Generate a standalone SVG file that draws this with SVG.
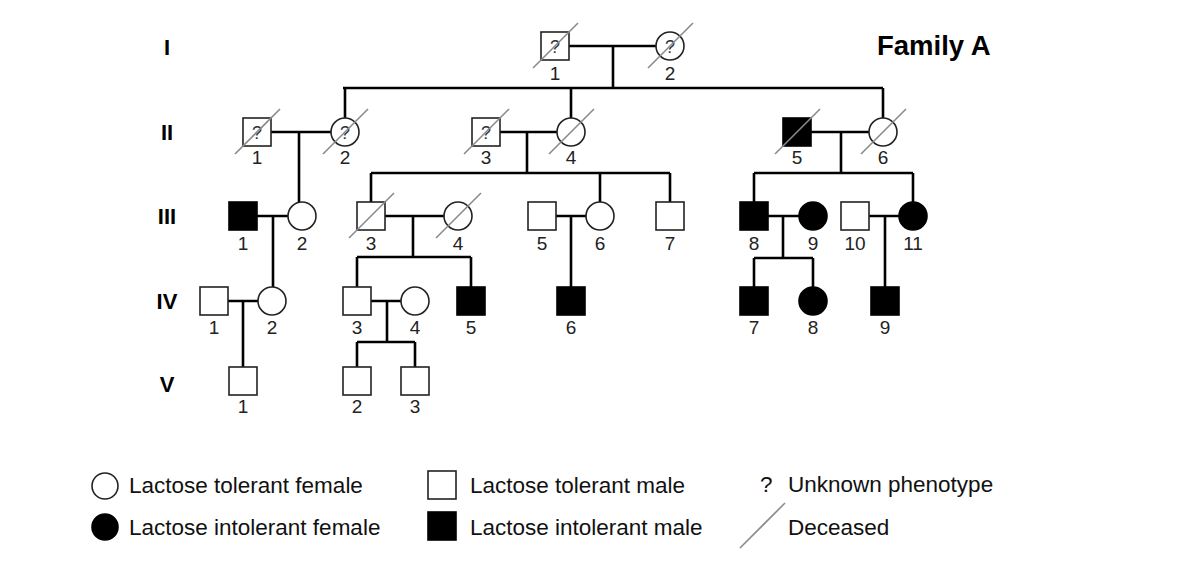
<svg xmlns="http://www.w3.org/2000/svg" width="1191" height="569" viewBox="0 0 1191 569">
<style>
.sym{stroke:#222;stroke-width:1.6;fill:#fff}
.aff{fill:#000;stroke:#000;stroke-width:1.6}
.ln{stroke:#000;stroke-width:2.6;fill:none}
.sl{stroke:#8a8a8a;stroke-width:1.6}
.num{font-family:"Liberation Sans",Arial,sans-serif;font-size:19px;fill:#222;text-anchor:middle}
.q{font-family:"Liberation Sans",Arial,sans-serif;font-size:18px;fill:#333;text-anchor:middle}
.gen{font-family:"Liberation Sans",Arial,sans-serif;font-size:22px;font-weight:bold;fill:#000;text-anchor:middle}
.leg{font-family:"Liberation Sans",Arial,sans-serif;font-size:22.5px;fill:#111}
</style>
<defs>
<rect id="sq" x="-14" y="-14" width="28" height="28"/>
<circle id="ci" r="14"/>
<line id="dec" x1="-22" y1="22" x2="23" y2="-23"/>
</defs>
<rect width="1191" height="569" fill="#fff"/>

<g id="gen-labels">
<text class="gen" x="167" y="55">I</text>
<text class="gen" x="167" y="140">II</text>
<text class="gen" x="167" y="224">III</text>
<text class="gen" x="167" y="309">IV</text>
<text class="gen" x="167" y="392">V</text>
</g>
<text id="title" x="877" y="55" font-family="Liberation Sans, Arial, sans-serif" font-size="27.5" font-weight="bold" fill="#000">Family A</text>

<g id="connectors">
<path class="ln" d="M569 46H656M613 46V88M343 88H883M345 88V118M571 88V118M883 88V118"/>
<path class="ln" d="M271 132H331M299 132V202"/>
<path class="ln" d="M500 132H557M527 132V173M371 173H670M371 173V202M600 173V202M670 173V202"/>
<path class="ln" d="M811 132H869M841 132V173M754 173H913M754 173V202M913 173V202"/>
<path class="ln" d="M257 216H288M273 216V287"/>
<path class="ln" d="M385 216H444M413 216V257M357 257H471M357 257V287M471 257V287"/>
<path class="ln" d="M556 216H586M571 216V287"/>
<path class="ln" d="M768 216H799M783 216V258M754 258H813M754 258V287M813 258V287"/>
<path class="ln" d="M869 216H899M885 216V287"/>
<path class="ln" d="M228 301H258M243 301V367"/>
<path class="ln" d="M371 301H401M387 301V342M357 342H415M357 342V367M415 342V367"/>
</g>

<g id="I-1" transform="translate(555,46)"><use href="#sq" class="sym"/><text class="q" y="7">?</text><use href="#dec" class="sl"/><text class="num" y="34">1</text></g>
<g id="I-2" transform="translate(670,46)"><use href="#ci" class="sym"/><text class="q" y="7">?</text><use href="#dec" class="sl"/><text class="num" y="34">2</text></g>

<g id="II-1" transform="translate(257,132)"><use href="#sq" class="sym"/><text class="q" y="7">?</text><use href="#dec" class="sl"/><text class="num" y="32">1</text></g>
<g id="II-2" transform="translate(345,132)"><use href="#ci" class="sym"/><text class="q" y="7">?</text><use href="#dec" class="sl"/><text class="num" y="32">2</text></g>
<g id="II-3" transform="translate(486,132)"><use href="#sq" class="sym"/><text class="q" y="7">?</text><use href="#dec" class="sl"/><text class="num" y="32">3</text></g>
<g id="II-4" transform="translate(571,132)"><use href="#ci" class="sym"/><use href="#dec" class="sl"/><text class="num" y="32">4</text></g>
<g id="II-5" transform="translate(797,132)"><use href="#sq" class="aff"/><use href="#dec" class="sl"/><text class="num" y="32">5</text></g>
<g id="II-6" transform="translate(883,132)"><use href="#ci" class="sym"/><use href="#dec" class="sl"/><text class="num" y="32">6</text></g>

<g id="III-1" transform="translate(243,216)"><use href="#sq" class="aff"/><text class="num" y="34">1</text></g>
<g id="III-2" transform="translate(302,216)"><use href="#ci" class="sym"/><text class="num" y="34">2</text></g>
<g id="III-3" transform="translate(371,216)"><use href="#sq" class="sym"/><use href="#dec" class="sl"/><text class="num" y="34">3</text></g>
<g id="III-4" transform="translate(458,216)"><use href="#ci" class="sym"/><use href="#dec" class="sl"/><text class="num" y="34">4</text></g>
<g id="III-5" transform="translate(542,216)"><use href="#sq" class="sym"/><text class="num" y="34">5</text></g>
<g id="III-6" transform="translate(600,216)"><use href="#ci" class="sym"/><text class="num" y="34">6</text></g>
<g id="III-7" transform="translate(670,216)"><use href="#sq" class="sym"/><text class="num" y="34">7</text></g>
<g id="III-8" transform="translate(754,216)"><use href="#sq" class="aff"/><text class="num" y="34">8</text></g>
<g id="III-9" transform="translate(813,216)"><use href="#ci" class="aff"/><text class="num" y="34">9</text></g>
<g id="III-10" transform="translate(855,216)"><use href="#sq" class="sym"/><text class="num" y="34">10</text></g>
<g id="III-11" transform="translate(913,216)"><use href="#ci" class="aff"/><text class="num" y="34">11</text></g>

<g id="IV-1" transform="translate(214,301)"><use href="#sq" class="sym"/><text class="num" y="33">1</text></g>
<g id="IV-2" transform="translate(272,301)"><use href="#ci" class="sym"/><text class="num" y="33">2</text></g>
<g id="IV-3" transform="translate(357,301)"><use href="#sq" class="sym"/><text class="num" y="33">3</text></g>
<g id="IV-4" transform="translate(415,301)"><use href="#ci" class="sym"/><text class="num" y="33">4</text></g>
<g id="IV-5" transform="translate(471,301)"><use href="#sq" class="aff"/><text class="num" y="33">5</text></g>
<g id="IV-6" transform="translate(571,301)"><use href="#sq" class="aff"/><text class="num" y="33">6</text></g>
<g id="IV-7" transform="translate(754,301)"><use href="#sq" class="aff"/><text class="num" y="33">7</text></g>
<g id="IV-8" transform="translate(813,301)"><use href="#ci" class="aff"/><text class="num" y="33">8</text></g>
<g id="IV-9" transform="translate(885,301)"><use href="#sq" class="aff"/><text class="num" y="33">9</text></g>

<g id="V-1" transform="translate(243,381)"><use href="#sq" class="sym"/><text class="num" y="32">1</text></g>
<g id="V-2" transform="translate(357,381)"><use href="#sq" class="sym"/><text class="num" y="32">2</text></g>
<g id="V-3" transform="translate(415,381)"><use href="#sq" class="sym"/><text class="num" y="32">3</text></g>

<g id="legend">
<circle class="sym" cx="105" cy="486" r="13"/>
<text class="leg" x="129" y="493">Lactose tolerant female</text>
<circle class="aff" cx="105" cy="527" r="13"/>
<text class="leg" x="129" y="535">Lactose intolerant female</text>
<rect class="sym" x="428" y="471" width="28" height="28"/>
<text class="leg" x="470" y="493">Lactose tolerant male</text>
<rect class="aff" x="428" y="512" width="28" height="28"/>
<text class="leg" x="470" y="535">Lactose intolerant male</text>
<text class="leg" x="760" y="492">?</text>
<text class="leg" x="788" y="492">Unknown phenotype</text>
<line class="sl" x1="740" y1="548" x2="785" y2="503"/>
<text class="leg" x="788" y="535">Deceased</text>
</g>
</svg>
